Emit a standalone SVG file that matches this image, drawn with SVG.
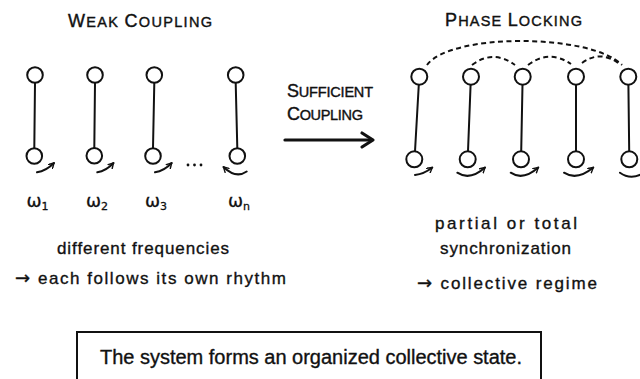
<svg xmlns="http://www.w3.org/2000/svg" width="640" height="379" viewBox="0 0 640 379">
<style>
  .bg{fill:#ffffff}
  .rod{stroke:#111;stroke-width:2;fill:none;stroke-linecap:round}
  .bob{stroke:#111;stroke-width:2;fill:#fff}
  .rot{stroke:#111;stroke-width:2;fill:none;stroke-linecap:round;marker-end:url(#ah)}
  .dash{stroke:#111;stroke-width:2;fill:none;stroke-dasharray:5 3.5}
  .t{font-family:"Liberation Sans","DejaVu Sans",sans-serif;fill:#111;stroke:#111;stroke-width:0.35}
  .title{font-family:"Liberation Sans","DejaVu Sans",sans-serif;fill:#111;font-size:14.5px;stroke:#111;stroke-width:0.4}
  .big{font-size:18px}
  .lbl{font-family:"DejaVu Sans","Liberation Sans",sans-serif;fill:#111;font-size:18px;stroke:#111;stroke-width:0.3}
  .sub{font-size:11px}
  .arr{font-family:"DejaVu Sans",sans-serif}
</style>
<defs>
  <marker id="ah" viewBox="0 0 10 10" refX="8" refY="5" markerWidth="7" markerHeight="7" markerUnits="userSpaceOnUse" orient="auto">
    <path d="M1,1 L8,5 L1,9" fill="none" stroke="#111" stroke-width="2" stroke-linecap="round" stroke-linejoin="round"/>
  </marker>
</defs>
<rect class="bg" x="0" y="0" width="640" height="379"/>

<g id="title-weak">
  <text class="title" x="68" y="26.5" textLength="144" lengthAdjust="spacing"><tspan class="big">W</tspan>EAK  <tspan class="big">C</tspan>OUPLING</text>
</g>
<g id="title-phase">
  <text class="title" x="445" y="26" textLength="137" lengthAdjust="spacing"><tspan class="big">P</tspan>HASE  <tspan class="big">L</tspan>OCKING</text>
</g>

<!-- weak coupling pendulums -->
<g id="pendulum-1">
  <line class="rod" x1="35" y1="83" x2="34.3" y2="148"/>
  <circle class="bob" cx="35" cy="75" r="7.8"/>
  <circle class="bob" cx="34.3" cy="156" r="7.8"/>
  <path class="rot" d="M37,172.3 Q46,171 54,163"/>
</g>
<g id="pendulum-2">
  <line class="rod" x1="95" y1="83" x2="94.3" y2="148"/>
  <circle class="bob" cx="95" cy="75" r="7.8"/>
  <circle class="bob" cx="94.3" cy="155.7" r="7.8"/>
  <path class="rot" d="M97.3,172.3 Q106,171 113.5,163"/>
</g>
<g id="pendulum-3">
  <line class="rod" x1="154.3" y1="83" x2="153" y2="148"/>
  <circle class="bob" cx="154.3" cy="75" r="7.8"/>
  <circle class="bob" cx="153" cy="156" r="7.8"/>
  <path class="rot" d="M155,172.3 Q164,171 171.7,163"/>
</g>
<g id="ellipsis">
  <circle cx="188" cy="165" r="1.4" fill="#111"/>
  <circle cx="194.5" cy="165" r="1.4" fill="#111"/>
  <circle cx="201" cy="165" r="1.4" fill="#111"/>
</g>
<g id="pendulum-n">
  <line class="rod" x1="235.7" y1="83" x2="237.3" y2="148"/>
  <circle class="bob" cx="235.7" cy="75" r="7.8"/>
  <circle class="bob" cx="237.3" cy="156" r="7.8"/>
  <path class="rot" d="M246.7,171.5 Q236,179 223.5,167"/>
</g>

<g id="freq-labels">
  <text class="lbl" x="26.5" y="207">ω<tspan class="sub" dy="3">1</tspan></text>
  <text class="lbl" x="86" y="207">ω<tspan class="sub" dy="3">2</tspan></text>
  <text class="lbl" x="145" y="207">ω<tspan class="sub" dy="3">3</tspan></text>
  <text class="lbl" x="228" y="207">ω<tspan class="sub" dy="3">n</tspan></text>
</g>

<g id="left-caption">
  <text class="t" x="57" y="254" font-size="17" textLength="172" lengthAdjust="spacing">different frequencies</text>
  <text class="t" x="15" y="283.5" font-size="17" textLength="271" lengthAdjust="spacing"><tspan class="arr" font-size="18">→</tspan> each follows its own rhythm</text>
</g>

<g id="transition-label">
  <text class="title" x="287" y="96.5" textLength="86" lengthAdjust="spacing"><tspan class="big">S</tspan>UFFICIENT</text>
  <text class="title" x="287" y="120" textLength="76" lengthAdjust="spacing"><tspan class="big">C</tspan>OUPLING</text>
</g>

<!-- phase locking pendulums -->
<g id="locked-1">
  <line class="rod" x1="418.8" y1="84.5" x2="415" y2="151.5"/>
  <circle class="bob" cx="419.3" cy="76.7" r="8"/>
  <circle class="bob" cx="414.3" cy="159.3" r="8"/>
  <path class="rot" d="M415,175 Q424,174 432.3,167.5"/>
</g>
<g id="locked-2">
  <line class="rod" x1="470.6" y1="84.5" x2="468" y2="151.5"/>
  <circle class="bob" cx="471" cy="76.7" r="8"/>
  <circle class="bob" cx="467.7" cy="159.3" r="8"/>
  <path class="rot" d="M457.3,172.7 Q470,181 485,167.5"/>
</g>
<g id="locked-3">
  <line class="rod" x1="522.5" y1="84.5" x2="521.2" y2="151.5"/>
  <circle class="bob" cx="522.7" cy="76.7" r="8"/>
  <circle class="bob" cx="521" cy="159.3" r="8"/>
  <path class="rot" d="M510.7,172.7 Q523,181 538.3,167.5"/>
</g>
<g id="locked-4">
  <line class="rod" x1="576" y1="84.5" x2="576" y2="151.5"/>
  <circle class="bob" cx="576" cy="76.7" r="8"/>
  <circle class="bob" cx="576" cy="159.3" r="8"/>
  <path class="rot" d="M564,172.7 Q577,181 593.3,167.5"/>
</g>
<g id="locked-5">
  <line class="rod" x1="628.4" y1="84.5" x2="629.2" y2="151.5"/>
  <circle class="bob" cx="628.3" cy="76.7" r="8"/>
  <circle class="bob" cx="629.3" cy="159.3" r="8"/>
  <path class="rod" d="M620,172.7 Q630,180 642,174"/>
</g>

<g id="connectors">
  <path class="dash" d="M427,65 C450,33 590,33 622,65"/>
  <path class="dash" d="M472,65 Q493,49 515,65"/>
  <path class="dash" d="M528,65 Q549,49 571,64"/>
  <path class="dash" d="M582,63 Q601,49 621,65"/>
  <line x1="285" y1="140" x2="371" y2="140" stroke="#111" stroke-width="3.2" stroke-linecap="round"/>
  <path d="M362,133 L373,140 L362,147" fill="none" stroke="#111" stroke-width="3.2" stroke-linecap="round" stroke-linejoin="round"/>
</g>

<g id="right-caption">
  <text class="t" x="435" y="229" font-size="17" textLength="142" lengthAdjust="spacing">partial or total</text>
  <text class="t" x="440" y="253.5" font-size="17" textLength="131" lengthAdjust="spacing">synchronization</text>
  <text class="t" x="417" y="289" font-size="17" textLength="180" lengthAdjust="spacing"><tspan class="arr" font-size="18">→</tspan> collective regime</text>
</g>

<g id="conclusion-box">
  <rect x="77" y="332" width="464" height="60" fill="none" stroke="#111" stroke-width="2"/>
  <text class="t" x="100" y="364" font-size="20" textLength="422" lengthAdjust="spacing">The system forms an organized collective state.</text>
</g>
</svg>
